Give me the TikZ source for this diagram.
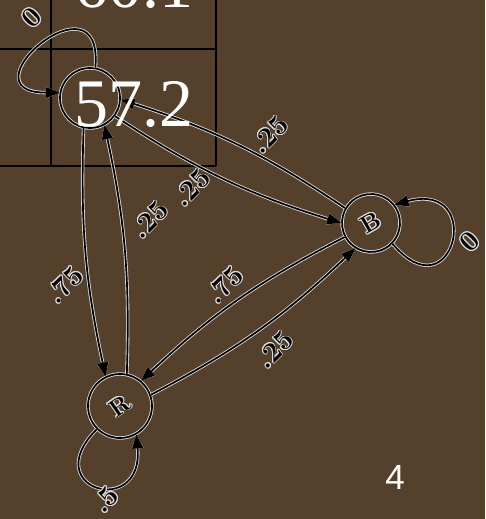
\documentclass[tikz,border=0pt]{standalone}
\usepackage{fontspec}
\usepackage{contour}
\contourlength{0.9pt}
\newfontfamily\tabfont{Liberation Serif}
\newfontfamily\pagefont{Liberation Sans}
\usetikzlibrary{arrows.meta}
\definecolor{slidebrown}{HTML}{54402B}
\definecolor{halo}{HTML}{DCDCDC}
\newcommand{\halotext}[1]{\contour{halo}{#1}}

\begin{document}
\begin{tikzpicture}[
			x=1pt,y=1pt,
			state/.style={circle,draw=black,line width=1.7pt,preaction={draw=halo,line width=3.4pt},inner sep=0pt,font=\bfseries\fontsize{24}{24}\selectfont},
			arr/.style={-{Triangle[length=14pt,width=11pt]},line width=1.7pt,black,preaction={draw=halo,line width=3.4pt}},
			lbl/.style={font=\bfseries\fontsize{28}{28}\selectfont,rotate=45,inner sep=0pt,text=black},
			grid/.style={line width=2.2pt,black},
			cell/.style={font=\tabfont\fontsize{68}{68}\selectfont,text=white,inner sep=0pt,anchor=base}
			]
			\fill[slidebrown] (0,0) rectangle (485,519);
			\useasboundingbox (0,0) rectangle (485,519);
			\clip (0,0) rectangle (485,519);
			\draw[grid] (51,519) -- (51,353);
			\draw[grid] (216,519) -- (216,353);
			\draw[grid] (0,470) -- (216,470);
			\draw[grid] (0,353) -- (216,353);
			\node[state,minimum size=60pt] (A) at (90,421) {};
			\node[state,minimum size=58pt,rotate=30] (B) at (371,296) {\halotext{B}};
			\node[state,minimum size=64pt,rotate=35] (R) at (120,113) {\halotext{R}};
			\draw[arr] (A.-102) to[bend right=7] (R.81);
			\draw[arr] (R.43) to[bend right=7] (A.-62);
			\draw[arr] (B.120) to[bend right=8] (A.-3);
			\draw[arr] (A.-36) to[bend right=8] (B.150);
			\draw[arr] (B.178) to[bend right=8] (R.15);
			\draw[arr] (R.-15) to[bend right=8] (B.208);
			\draw[arr] (A.80) .. controls +(85:100) and +(180:100) .. (A.170);
			\draw[arr] (B.-74) .. controls +(-50:95) and +(15:95) .. (B.8);
			\draw[arr] (R.-170) .. controls +(225:85) and +(-85:85) .. (R.-95);
			\node[lbl] (lAA) at (32,501) {\halotext{0}};
			\node[lbl] (lBA) at (270,384) {\halotext{.25}};
			\node[lbl] (lAB) at (192,331) {\halotext{.25}};
			\node[lbl] (lRA) at (150,299) {\halotext{.25}};
			\node[lbl] (lAR) at (65,234) {\halotext{.75}};
			\node[lbl] (lBR) at (225,234) {\halotext{.75}};
			\node[lbl] (lRB) at (275,169) {\halotext{.25}};
			\node[lbl] (lBB) at (470,277) {\halotext{0}};
			\node[lbl] (lRR) at (106,19) {\halotext{.5}};
			\node[cell] (c1) at (133.5,511) {60.1};
			\node[cell] (c2) at (133.5,392) {57.2};
			\node[font=\pagefont\fontsize{35}{35}\selectfont,text=white] (pg) at (395,42) {4};
		\end{tikzpicture}
\end{document}
